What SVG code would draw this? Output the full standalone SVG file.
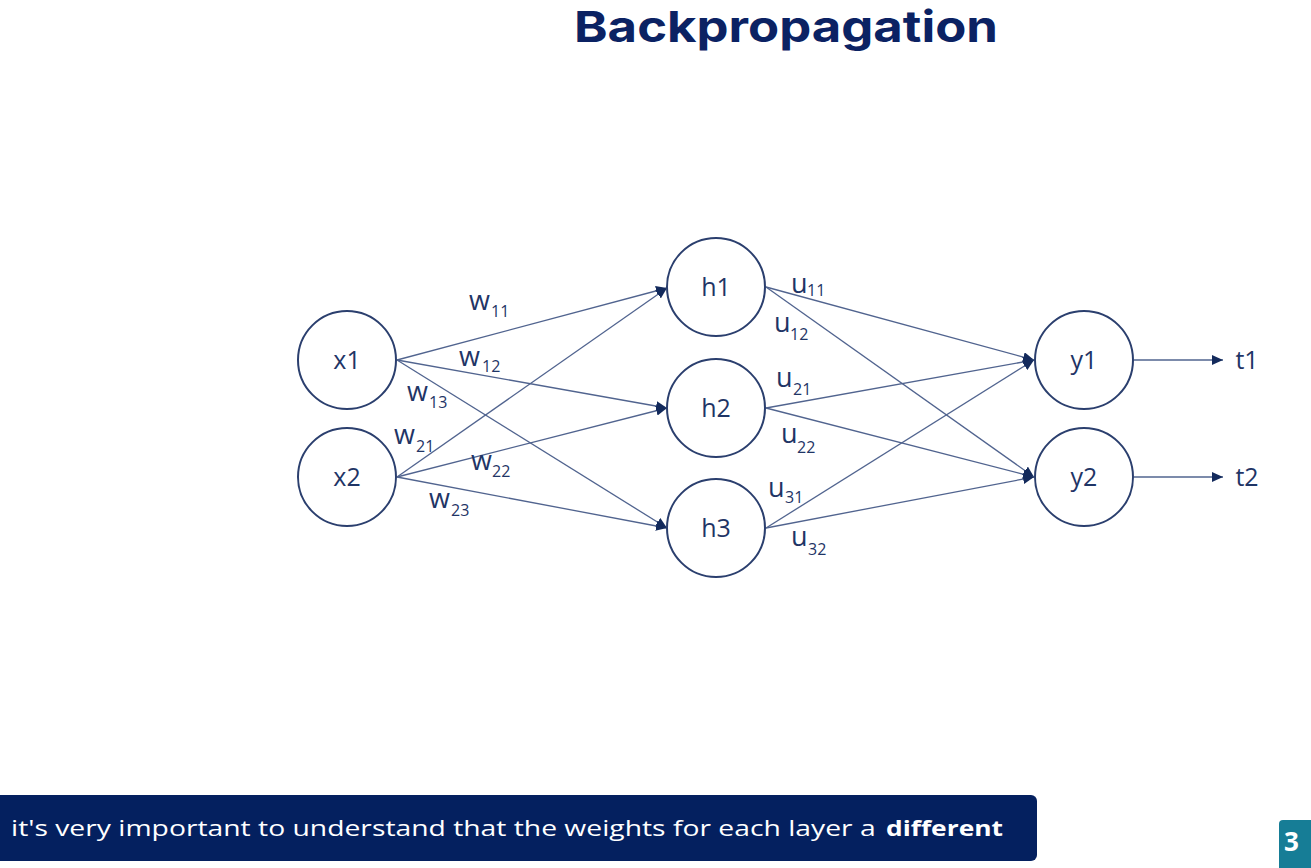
<svg xmlns="http://www.w3.org/2000/svg" width="1311" height="868" viewBox="0 0 1311 868">
<style>
.node circle{fill:#fff;stroke:#2b3f6e;stroke-width:2}
.node text{font-family:"Open Sans","DejaVu Sans",sans-serif;font-size:25px;fill:#1f3566;text-anchor:middle}
.edges line{stroke:#51648f;stroke-width:1.3}
.lbl{font-family:"Open Sans","DejaVu Sans",sans-serif;fill:#1f3566;font-size:27px}
.sub{font-size:16px}
</style>
<defs>
<marker id="ah" markerUnits="userSpaceOnUse" markerWidth="12" markerHeight="10" refX="11" refY="5" orient="auto">
<path d="M0,0 L11,5 L0,10 Z" fill="#132a5c"/>
</marker>
</defs>
<rect width="1311" height="868" fill="#fff"/>
<text x="786" y="42" font-family="Inter,'DejaVu Sans',sans-serif" font-weight="700" font-size="43" fill="#0b2263" text-anchor="middle" textLength="424" lengthAdjust="spacingAndGlyphs">Backpropagation</text>
<g class="edges">
<line x1="397" y1="360" x2="667" y2="288" marker-end="url(#ah)"/>
<line x1="397" y1="360" x2="667" y2="408" marker-end="url(#ah)"/>
<line x1="397" y1="360" x2="667" y2="528" marker-end="url(#ah)"/>
<line x1="397" y1="477" x2="667" y2="288" marker-end="url(#ah)"/>
<line x1="397" y1="477" x2="667" y2="408" marker-end="url(#ah)"/>
<line x1="397" y1="477" x2="667" y2="528" marker-end="url(#ah)"/>
<line x1="766" y1="287" x2="1034" y2="360" marker-end="url(#ah)"/>
<line x1="766" y1="287" x2="1034" y2="477" marker-end="url(#ah)"/>
<line x1="766" y1="408" x2="1034" y2="360" marker-end="url(#ah)"/>
<line x1="766" y1="408" x2="1034" y2="477" marker-end="url(#ah)"/>
<line x1="766" y1="528" x2="1034" y2="360" marker-end="url(#ah)"/>
<line x1="766" y1="528" x2="1034" y2="477" marker-end="url(#ah)"/>
<line x1="1134" y1="360" x2="1223" y2="360" marker-end="url(#ah)"/>
<line x1="1134" y1="477" x2="1223" y2="477" marker-end="url(#ah)"/>
</g>
<g id="x1" class="node"><circle cx="347" cy="360" r="49"/><text x="347" y="369">x1</text></g>
<g id="x2" class="node"><circle cx="347" cy="477" r="49"/><text x="347" y="486">x2</text></g>
<g id="h1" class="node"><circle cx="716" cy="287" r="49"/><text x="716" y="296">h1</text></g>
<g id="h2" class="node"><circle cx="716" cy="408" r="49"/><text x="716" y="417">h2</text></g>
<g id="h3" class="node"><circle cx="716" cy="528" r="49"/><text x="716" y="537">h3</text></g>
<g id="y1" class="node"><circle cx="1084" cy="360" r="49"/><text x="1084" y="369">y1</text></g>
<g id="y2" class="node"><circle cx="1084" cy="477" r="49"/><text x="1084" y="486">y2</text></g>
<g id="t1" class="node"><text x="1247" y="369">t1</text></g>
<g id="t2" class="node"><text x="1247" y="486">t2</text></g>
<g id="labels">
<text class="lbl" x="469" y="310">w<tspan class="sub" x="491" y="317">11</tspan></text>
<text class="lbl" x="459" y="366">w<tspan class="sub" x="482" y="372">12</tspan></text>
<text class="lbl" x="407" y="401">w<tspan class="sub" x="429" y="408">13</tspan></text>
<text class="lbl" x="394" y="444">w<tspan class="sub" x="416" y="452">21</tspan></text>
<text class="lbl" x="471" y="470">w<tspan class="sub" x="492" y="477">22</tspan></text>
<text class="lbl" x="429" y="508">w<tspan class="sub" x="451" y="516">23</tspan></text>
<text class="lbl" x="791" y="293">u<tspan class="sub" x="807" y="296">11</tspan></text>
<text class="lbl" x="774" y="332">u<tspan class="sub" x="790" y="340">12</tspan></text>
<text class="lbl" x="776" y="387">u<tspan class="sub" x="793" y="395">21</tspan></text>
<text class="lbl" x="781" y="443">u<tspan class="sub" x="797" y="453">22</tspan></text>
<text class="lbl" x="768" y="497">u<tspan class="sub" x="785" y="503">31</tspan></text>
<text class="lbl" x="791" y="546">u<tspan class="sub" x="808" y="555">32</tspan></text>
</g>
<g id="caption">
<rect x="-6" y="795" width="1043" height="66" rx="6" fill="#04205f"/>
<text x="11" y="836" font-family="'Open Sans','DejaVu Sans',sans-serif" font-size="22" fill="#fff"><tspan textLength="872" lengthAdjust="spacingAndGlyphs">it's very important to understand that the weights for each layer a </tspan><tspan x="886" font-weight="700" textLength="117" lengthAdjust="spacingAndGlyphs">different</tspan></text>
</g>
<g id="badge">
<rect x="1279" y="820" width="40" height="56" rx="4" fill="#167d96"/>
<text x="1284" y="851" font-family="'Open Sans','DejaVu Sans',sans-serif" font-weight="700" font-size="26" fill="#fff">3</text>
</g>
</svg>
